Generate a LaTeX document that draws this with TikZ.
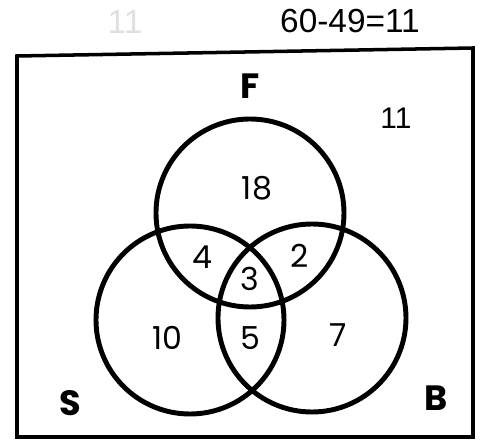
\documentclass[tikz,border=0pt]{standalone}
\usepackage{fontspec}
\setmainfont{Poppins}
\newfontfamily\handfont{Liberation Sans}
\tikzset{
  num/.style={inner sep=0pt, font=\fontsize{18}{20}\selectfont},
  setname/.style={inner sep=0pt, font=\fontsize{20}{22}\selectfont\bfseries},
  hand/.style={inner sep=0pt, font=\handfont\fontsize{19}{21}\selectfont},
}
\begin{document}
\begin{tikzpicture}[x=0.02cm, y=-0.02cm]
    \useasboundingbox (0,0) rectangle (485,446);

    % 画一个矩形
    \draw[line width=2pt] (17,56) -- (473,48) -- (473,437) -- (17,437) -- cycle;

    % 画三个圆形
    \draw[line width=2.8pt] (250,213) circle (94);
    \draw[line width=2.8pt] (190,320) circle (94);
    \draw[line width=2.8pt] (312,318) circle (94);

    % 插入文字
    \node[setname] (lblF) at (250,86) {F};
    \node[setname] (lblS) at (70,403) {S};
    \node[setname] (lblB) at (436,398) {B};

    \node[num] (nF) at (257,188) {18};
    \node[num] (nFS) at (202,257) {4};
    \node[num] (nFB) at (300,256) {2};
    \node[num] (nAll) at (250,279) {3};
    \node[num] (nS) at (167,338) {10};
    \node[num] (nSB) at (250,338) {5};
    \node[num] (nB) at (338,335) {7};

    % 手写
    \node[hand] (calc) at (350,21) {60-49=11};
    \node[hand, font=\handfont\fontsize{17}{19}\selectfont] (rest) at (396,118) {11};
    \node[hand, text=black!12] (faint) at (125,22) {11};

  \end{tikzpicture}
\end{document}
